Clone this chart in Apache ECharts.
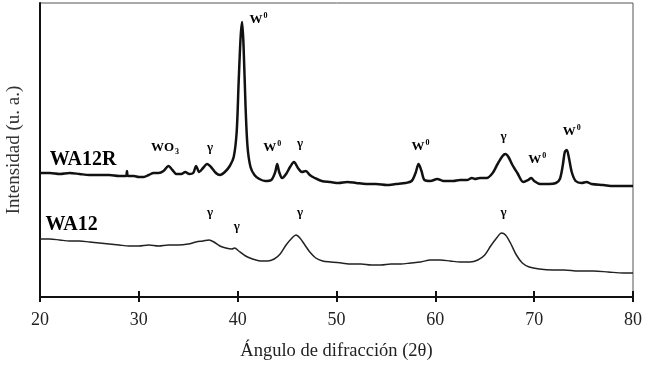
<!DOCTYPE html>
<html>
<head>
<meta charset="utf-8">
<script src="https://cdn.jsdelivr.net/npm/echarts@6/dist/echarts.min.js"></script>
<style>
	html, body { margin: 0; padding: 0; background: #fff; }
	#xrdChart { width: 650px; height: 367px; }
</style>
</head>
<body>
<div id="xrdChart"></div>
<script>
// patrones de difraccion, intensidad en u. a.
var xTicks = [20, 30, 40, 50, 60, 70, 80];

var wa12r = [
	[20,124],[21,124],[22,123],[23,124],[24,123],[25,122],[26,122],[27,122],[28,121],[28.7,121],[28.8,126],[28.9,121],
	[29.5,121],[30,120],[30.5,120],[31,122],[31.5,124],[32,124],[32.5,126],[33,131],[33.4,127],[33.8,123],[34.3,123],
	[34.7,125],[35.1,123],[35.5,124],[35.8,131],[36.1,125],[36.5,129],[36.9,133],[37.3,130],[37.8,124],[38.2,122],
	[38.7,125],[39.2,131],[39.6,140],[39.9,165],[40.1,215],[40.3,260],[40.45,275],[40.6,250],[40.8,190],[41.0,150],
	[41.3,130],[41.7,122],[42.2,118],[42.8,116],[43.4,117],[43.8,125],[44.0,133],[44.2,125],[44.5,119],[44.9,123],
	[45.3,130],[45.7,135],[46.1,129],[46.5,125],[46.9,126],[47.3,122],[47.8,119],[48.5,116],[49.4,115],[50.2,114],
	[51.1,115],[52,114],[53,113],[54,113],[55.1,112],[56,113],[57,114],[57.6,116],[58.0,124],[58.3,133],[58.6,126],
	[58.9,117],[59.5,116],[60.2,118],[60.8,116],[61.8,116],[62.5,117],[63.2,117],[63.7,119],[64.0,118],[64.5,119],
	[65.2,119],[65.8,124],[66.3,133],[66.8,141],[67.1,143],[67.4,140],[67.8,132],[68.3,124],[68.9,115],[69.4,117],
	[69.7,119],[70.0,116],[70.6,113],[71.5,113],[72.2,114],[72.6,118],[72.9,132],[73.1,145],[73.3,147],[73.5,140],
	[73.8,125],[74.2,116],[74.8,114],[75.3,115],[75.8,113],[77,112],[78,111],[79,111],[80,111]
];

var wa12 = [
	[20,58],[21,58],[22,57],[23,56],[24,56],[25,55],[26,54],[27,53],[28,52],[29,51],[30,51],[31,52],[32,51],[33,52],
	[34,52],[35,53],[35.8,55],[36.5,56],[37.1,57],[37.6,55],[38.2,51],[38.8,49],[39.4,48],[39.7,49],[40.1,46],
	[40.8,41],[41.5,38],[42.3,36],[43,36],[43.7,38],[44.3,43],[44.9,52],[45.5,59],[45.9,62],[46.3,59],[46.8,52],
	[47.3,45],[47.9,39],[48.6,36],[49.4,35],[50.5,34],[51.5,33],[52.5,33],[53.5,32],[54.5,32],[55.5,33],[56.5,33],
	[57.5,34],[58.5,35],[59.5,37],[60.5,37],[61.5,36],[62.5,35],[63.5,35],[64.3,37],[65.0,42],[65.6,51],[66.2,59],
	[66.7,64],[67.1,62],[67.6,54],[68.2,42],[68.8,34],[69.5,30],[70.5,28],[71.9,27],[73,27],[74.5,26],[76,26],
	[77.5,25],[79,24],[80,24]
];

// anotaciones de fases: [2theta, intensidad, texto]
var peakNotes = [
	[32.65,149,'WO{sub|3}'],[37.2,149,'γ'],[42.1,277,'W{sup|0}'],[43.5,149,'W{sup|0}'],[46.3,153,'γ'],
	[58.5,150,'W{sup|0}'],[66.9,160,'γ'],[70.3,137,'W{sup|0}'],[73.8,165,'W{sup|0}'],
	[37.2,84,'γ'],[39.9,70,'γ'],[46.3,84,'γ'],[66.9,84,'γ']
];
var sampleNames = [[24.35,137,'WA12R'],[23.2,72,'WA12']];

var myChart = echarts.init(document.getElementById('xrdChart'));
var serif = '"Liberation Serif", "DejaVu Serif", serif';

var option = {
	backgroundColor: '#fff',
	animation: false,
	grid: {
		show: true,
		left: 40, right: 17, top: 3, bottom: 70,
		outerBoundsMode: 'none',
		containLabel: false,
		borderColor: '#555',
		borderWidth: 1
	},
	xAxis: [{
		type: 'value',
		min: 20, max: 80, interval: 10,
		name: 'Ángulo de difracción (2θ)',
		nameLocation: 'middle',
		nameGap: 45,
		nameTextStyle: { fontFamily: serif, fontSize: 18.5, color: '#222' },
		axisLine: { lineStyle: { color: '#111', width: 2 } },
		axisTick: { show: true, length: 5, lineStyle: { color: '#111', width: 2 } },
		axisLabel: { margin: 14, fontFamily: serif, fontSize: 18, color: '#222' },
		splitLine: { show: false }
	}, {
		type: 'value',
		position: 'bottom',
		min: 20, max: 80, interval: 10,
		axisLine: { show: false },
		axisTick: { show: true, inside: true, length: 6, lineStyle: { color: '#111', width: 2 } },
		axisLabel: { show: false },
		splitLine: { show: false }
	}],
	yAxis: {
		type: 'value',
		min: 0, max: 294,
		name: 'Intensidad (u. a.)',
		nameLocation: 'middle',
		nameGap: 16,
		nameTextStyle: { fontFamily: serif, fontSize: 19, color: '#333' },
		axisLine: { show: true, lineStyle: { color: '#111', width: 2 } },
		axisTick: { show: false },
		axisLabel: { show: false },
		splitLine: { show: false }
	},
	series: [
		{
			name: 'WA12R',
			type: 'line',
			data: wa12r,
			showSymbol: false,
			smooth: 0.3,
			lineStyle: { color: '#111', width: 2.5 }
		},
		{
			name: 'WA12',
			type: 'line',
			data: wa12,
			showSymbol: false,
			smooth: 0.3,
			lineStyle: { color: '#222', width: 1.5 }
		},
		{
			name: 'fases',
			type: 'scatter',
			symbolSize: 0,
			itemStyle: { opacity: 1 },
			data: peakNotes.map(function (p) { return { value: [p[0], p[1]], note: p[2] }; }),
			label: {
				show: true,
				position: 'inside',
				opacity: 1,
				formatter: function (params) { return params.data.note; },
				fontFamily: serif,
				fontSize: 13,
				fontWeight: 'bold',
				color: '#000',
				textBorderColor: 'transparent',
				rich: {
					sub: { fontSize: 8, fontWeight: 'bold', fontFamily: serif, color: '#000', padding: [8, 0, 0, 1] },
					sup: { fontSize: 8, fontWeight: 'bold', fontFamily: serif, color: '#000', padding: [0, 0, 8, 1] }
				}
			}
		},
		{
			name: 'muestras',
			type: 'scatter',
			symbolSize: 0,
			itemStyle: { opacity: 1 },
			data: sampleNames.map(function (p) { return { value: [p[0], p[1]], note: p[2] }; }),
			label: {
				show: true,
				position: 'inside',
				opacity: 1,
				formatter: function (params) { return params.data.note; },
				fontFamily: serif,
				fontSize: 20,
				fontWeight: 'bold',
				color: '#000',
				textBorderColor: 'transparent',
				textBorderWidth: 0
			}
		}
	]
};
myChart.setOption(option);
</script>
</body>
</html>
